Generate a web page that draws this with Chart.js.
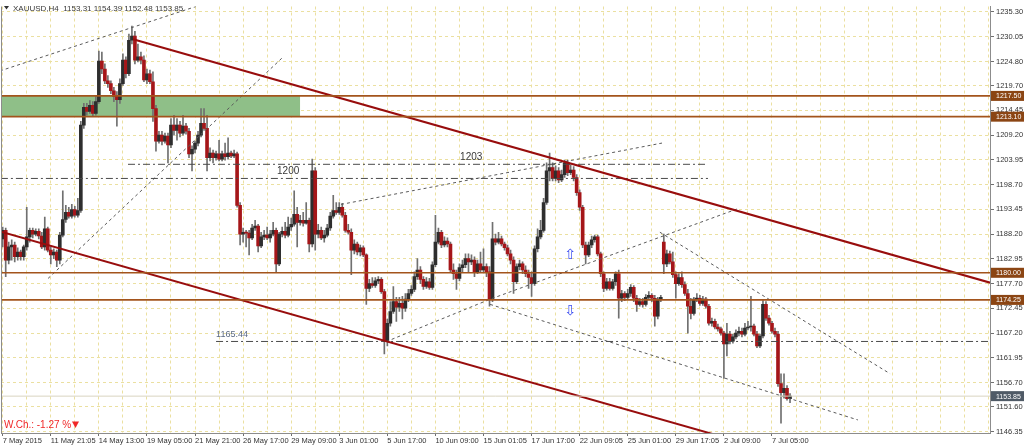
<!DOCTYPE html>
<html>
<head>
<meta charset="utf-8">
<title>XAUUSD,H4</title>
<script src="https://cdn.jsdelivr.net/npm/chart.js@4.4.1/dist/chart.umd.min.js"></script>
<style>
  html, body { margin: 0; padding: 0; background: #fff; }
  canvas { display: block; }
</style>
</head>
<body>
<canvas id="xau" width="1024" height="447"></canvas>
<script>
// H4 candles, one per bar index
const opens = [
  1187.2, 1189.0, 1182.7, 1185.5, 1185.9, 1183.4, 1184.4, 1183.4, 1185.5, 1187.6,
  1189.0, 1188.2, 1188.8, 1187.8, 1185.5, 1189.3, 1184.8, 1183.8, 1184.4, 1182.7,
  1188.0, 1191.3, 1192.8, 1192.0, 1193.4, 1192.2, 1193.2, 1211.3, 1215.1, 1214.2,
  1215.5, 1213.8, 1216.3, 1224.9, 1223.2, 1220.7, 1220.1, 1218.6, 1217.4, 1216.7,
  1220.1, 1225.1, 1222.2, 1229.3, 1230.2, 1225.1, 1225.8, 1225.1, 1220.9, 1222.2,
  1220.5, 1214.8, 1207.9, 1209.2, 1207.9, 1209.0, 1207.1, 1211.3, 1210.2, 1211.3,
  1209.6, 1211.1, 1210.0, 1205.2, 1206.2, 1207.5, 1209.2, 1211.7, 1210.6, 1204.4,
  1205.4, 1204.4, 1205.2, 1204.1, 1205.2, 1204.6, 1205.4, 1204.8, 1205.2, 1194.3,
  1188.2, 1188.6, 1188.4, 1187.4, 1189.5, 1189.9, 1185.7, 1187.6, 1188.0, 1187.4,
  1188.2, 1189.0, 1181.9, 1188.2, 1188.8, 1188.0, 1189.7, 1190.3, 1192.4, 1190.7,
  1191.1, 1190.5, 1191.1, 1186.1, 1201.6, 1188.2, 1189.0, 1187.4, 1188.0, 1189.5,
  1192.0, 1193.2, 1192.8, 1193.9, 1192.2, 1189.0, 1188.6, 1184.8, 1186.1, 1184.4,
  1185.3, 1183.8, 1176.7, 1177.7, 1177.3, 1178.3, 1178.6, 1176.0, 1165.5, 1169.3,
  1171.8, 1173.9, 1172.7, 1173.5, 1172.5, 1174.4, 1175.6, 1176.5, 1179.2, 1180.6,
  1178.6, 1177.1, 1178.1, 1176.9, 1181.7, 1186.5, 1188.6, 1185.9, 1186.7, 1186.1,
  1180.6, 1179.8, 1178.8, 1181.1, 1181.7, 1183.0, 1182.3, 1182.7, 1180.2, 1181.9,
  1180.6, 1181.3, 1180.2, 1174.4, 1187.2, 1186.5, 1187.2, 1186.1, 1185.3, 1184.0,
  1182.7, 1178.1, 1181.3, 1181.9, 1180.6, 1179.8, 1179.0, 1177.7, 1185.1, 1187.6,
  1189.0, 1194.9, 1201.6, 1202.3, 1200.0, 1201.6, 1199.7, 1200.8, 1203.3, 1201.2,
  1201.8, 1200.2, 1197.0, 1193.9, 1185.9, 1183.8, 1185.9, 1187.0, 1187.6, 1184.0,
  1179.8, 1176.7, 1178.1, 1176.7, 1178.1, 1179.8, 1174.6, 1175.6, 1174.8, 1175.6,
  1176.9, 1174.6, 1173.3, 1173.9, 1173.3, 1174.8, 1175.2, 1174.6, 1170.8, 1174.4,
  1186.5, 1181.9, 1184.0, 1182.3, 1179.6, 1177.7, 1179.0, 1177.5, 1175.6, 1172.9,
  1171.4, 1174.4, 1174.6, 1173.5, 1174.4, 1172.9, 1169.3, 1169.7, 1168.5, 1168.1,
  1167.2, 1164.9, 1167.0, 1165.5, 1166.4, 1167.2, 1167.6, 1167.0, 1168.3, 1168.5,
  1168.7, 1167.0, 1164.5, 1166.6, 1173.3, 1170.4, 1169.3, 1167.6, 1167.0, 1156.5,
  1154.6, 1155.5, 1153.31
];
const highs = [
  1189.7, 1189.5, 1186.5, 1187.0, 1186.5, 1185.3, 1184.8, 1185.9, 1193.9, 1189.5,
  1189.5, 1189.3, 1189.3, 1188.6, 1191.8, 1189.7, 1185.5, 1185.1, 1184.8, 1188.6,
  1197.4, 1194.3, 1193.9, 1194.5, 1194.1, 1195.8, 1212.1, 1215.9, 1215.9, 1216.5,
  1216.3, 1217.6, 1227.0, 1226.8, 1224.3, 1221.8, 1220.7, 1219.3, 1218.4, 1221.1,
  1226.4, 1225.8, 1230.6, 1232.3, 1231.2, 1228.5, 1226.8, 1226.0, 1223.2, 1223.0,
  1222.6, 1215.5, 1210.0, 1210.0, 1209.6, 1209.6, 1212.7, 1213.4, 1212.7, 1212.1,
  1213.4, 1211.7, 1210.6, 1206.9, 1207.9, 1210.0, 1214.8, 1214.8, 1213.4, 1206.5,
  1206.0, 1205.8, 1208.1, 1205.8, 1207.5, 1208.6, 1205.8, 1206.0, 1205.6, 1194.9,
  1189.5, 1189.0, 1189.0, 1190.3, 1191.1, 1190.3, 1188.6, 1189.0, 1189.7, 1189.0,
  1190.7, 1189.5, 1188.6, 1189.7, 1190.7, 1191.8, 1191.6, 1197.4, 1193.9, 1192.2,
  1192.8, 1194.9, 1191.6, 1204.1, 1202.3, 1190.3, 1189.7, 1189.0, 1190.3, 1192.8,
  1196.4, 1194.9, 1194.9, 1194.7, 1192.8, 1190.3, 1189.3, 1187.0, 1186.5, 1185.9,
  1185.7, 1184.0, 1178.6, 1179.0, 1179.0, 1179.2, 1179.0, 1176.5, 1170.2, 1173.9,
  1177.1, 1174.8, 1174.8, 1175.0, 1175.6, 1176.5, 1177.3, 1180.2, 1183.0, 1181.3,
  1179.2, 1179.0, 1178.8, 1182.3, 1192.2, 1189.5, 1189.0, 1187.6, 1187.4, 1186.5,
  1181.9, 1180.6, 1181.9, 1182.7, 1184.0, 1184.0, 1183.8, 1183.4, 1182.7, 1184.4,
  1185.1, 1181.9, 1181.3, 1190.7, 1188.2, 1188.6, 1187.8, 1186.5, 1185.9, 1184.8,
  1183.4, 1181.9, 1182.7, 1182.3, 1181.5, 1180.6, 1180.2, 1185.7, 1189.3, 1191.1,
  1195.8, 1203.3, 1205.4, 1203.3, 1202.7, 1202.3, 1201.8, 1203.9, 1203.9, 1202.9,
  1202.5, 1200.8, 1197.6, 1194.3, 1186.5, 1186.5, 1187.8, 1188.0, 1188.0, 1184.4,
  1180.2, 1178.8, 1178.8, 1178.6, 1180.2, 1180.6, 1176.3, 1176.0, 1176.5, 1177.5,
  1177.3, 1175.2, 1174.6, 1174.6, 1175.4, 1176.0, 1175.6, 1175.2, 1174.8, 1175.2,
  1188.2, 1184.8, 1184.6, 1184.4, 1180.2, 1179.8, 1180.2, 1178.1, 1176.5, 1174.6,
  1174.8, 1175.6, 1175.2, 1175.0, 1174.8, 1173.3, 1170.4, 1170.2, 1169.1, 1168.5,
  1167.6, 1169.3, 1167.6, 1167.0, 1167.9, 1168.5, 1168.3, 1169.3, 1169.7, 1175.0,
  1169.1, 1167.6, 1167.0, 1174.1, 1173.9, 1171.0, 1169.7, 1168.3, 1167.6, 1158.6,
  1158.6, 1156.1, 1154.39
];
const lows = [
  1185.5, 1179.2, 1181.9, 1182.7, 1182.3, 1182.7, 1182.7, 1182.7, 1184.8, 1186.5,
  1187.4, 1187.8, 1187.2, 1185.1, 1184.8, 1184.4, 1181.9, 1183.0, 1181.3, 1181.9,
  1187.6, 1190.7, 1191.6, 1191.6, 1191.8, 1191.8, 1192.8, 1210.6, 1213.4, 1213.8,
  1213.2, 1213.4, 1215.9, 1222.2, 1220.1, 1219.3, 1218.0, 1216.3, 1211.1, 1215.9,
  1219.7, 1221.3, 1221.8, 1228.5, 1224.3, 1224.7, 1224.3, 1220.5, 1220.1, 1220.1,
  1212.1, 1205.8, 1207.5, 1207.1, 1207.5, 1203.3, 1206.5, 1209.2, 1208.1, 1208.8,
  1209.2, 1209.4, 1204.4, 1201.6, 1205.4, 1206.9, 1208.8, 1210.2, 1201.6, 1203.7,
  1203.3, 1203.9, 1203.7, 1203.7, 1203.9, 1204.1, 1204.4, 1204.4, 1193.9, 1185.9,
  1186.5, 1185.5, 1183.8, 1187.0, 1189.0, 1184.4, 1185.3, 1187.0, 1187.0, 1186.5,
  1187.8, 1180.2, 1181.5, 1187.6, 1187.4, 1187.6, 1189.0, 1189.9, 1185.5, 1190.1,
  1189.9, 1190.3, 1184.4, 1185.5, 1184.8, 1187.4, 1187.0, 1186.5, 1187.6, 1189.0,
  1191.6, 1192.4, 1192.4, 1191.8, 1188.6, 1188.2, 1179.6, 1184.0, 1183.8, 1183.6,
  1183.4, 1173.3, 1176.0, 1176.9, 1176.9, 1177.7, 1175.6, 1162.8, 1164.5, 1168.7,
  1171.4, 1169.7, 1171.8, 1170.2, 1171.8, 1173.9, 1175.2, 1176.0, 1178.6, 1177.7,
  1176.5, 1176.7, 1176.5, 1176.5, 1181.3, 1186.1, 1185.3, 1185.5, 1185.5, 1180.2,
  1178.6, 1176.5, 1178.3, 1180.2, 1181.1, 1180.2, 1181.7, 1179.2, 1179.8, 1180.0,
  1180.2, 1179.2, 1172.9, 1173.9, 1185.9, 1186.1, 1185.7, 1184.8, 1183.6, 1181.9,
  1175.6, 1177.7, 1180.6, 1179.8, 1179.2, 1176.7, 1175.0, 1177.3, 1184.4, 1187.2,
  1188.6, 1194.5, 1199.5, 1199.5, 1199.5, 1199.1, 1199.3, 1200.2, 1200.6, 1200.8,
  1199.5, 1196.4, 1193.2, 1185.3, 1181.9, 1183.4, 1185.3, 1186.5, 1183.6, 1179.2,
  1176.0, 1176.3, 1176.3, 1176.3, 1177.3, 1170.4, 1173.9, 1174.1, 1174.4, 1175.0,
  1173.9, 1171.8, 1172.9, 1172.7, 1172.9, 1174.4, 1173.9, 1168.7, 1170.2, 1173.9,
  1179.8, 1181.3, 1181.9, 1179.0, 1174.6, 1177.3, 1176.9, 1175.2, 1167.2, 1170.2,
  1171.0, 1173.9, 1173.1, 1173.1, 1172.5, 1168.9, 1168.7, 1168.1, 1167.6, 1166.8,
  1157.6, 1162.4, 1164.9, 1165.1, 1166.0, 1166.6, 1166.4, 1166.6, 1167.9, 1167.6,
  1166.6, 1164.1, 1164.1, 1166.2, 1169.9, 1168.9, 1167.2, 1166.4, 1155.9, 1148.1,
  1153.4, 1153.0, 1152.48
];
const closes = [
  1189.0, 1182.7, 1185.5, 1185.9, 1183.4, 1184.4, 1183.4, 1185.5, 1187.6, 1189.0,
  1188.2, 1188.8, 1187.8, 1185.5, 1189.3, 1184.8, 1183.8, 1184.4, 1182.7, 1188.0,
  1191.3, 1192.8, 1192.0, 1193.4, 1192.2, 1193.2, 1211.3, 1215.1, 1214.2, 1215.5,
  1213.8, 1216.3, 1224.9, 1223.2, 1220.7, 1220.1, 1218.6, 1217.4, 1216.7, 1220.1,
  1225.1, 1222.2, 1229.3, 1230.2, 1225.1, 1225.8, 1225.1, 1220.9, 1222.2, 1220.5,
  1214.8, 1207.9, 1209.2, 1207.9, 1209.0, 1207.1, 1211.3, 1210.2, 1211.3, 1209.6,
  1211.1, 1210.0, 1205.2, 1206.2, 1207.5, 1209.2, 1211.7, 1210.6, 1204.4, 1205.4,
  1204.4, 1205.2, 1204.1, 1205.2, 1204.6, 1205.4, 1204.8, 1205.2, 1194.3, 1188.2,
  1188.6, 1188.4, 1187.4, 1189.5, 1189.9, 1185.7, 1187.6, 1188.0, 1187.4, 1188.2,
  1189.0, 1181.9, 1188.2, 1188.8, 1188.0, 1189.7, 1190.3, 1192.4, 1190.7, 1191.1,
  1190.5, 1191.1, 1186.1, 1201.6, 1188.2, 1189.0, 1187.4, 1188.0, 1189.5, 1192.0,
  1193.2, 1192.8, 1193.9, 1192.2, 1189.0, 1188.6, 1184.8, 1186.1, 1184.4, 1185.3,
  1183.8, 1176.7, 1177.7, 1177.3, 1178.3, 1178.6, 1176.0, 1165.5, 1169.3, 1171.8,
  1173.9, 1172.7, 1173.5, 1172.5, 1174.4, 1175.6, 1176.5, 1179.2, 1180.6, 1178.6,
  1177.1, 1178.1, 1176.9, 1181.7, 1186.5, 1188.6, 1185.9, 1186.7, 1186.1, 1180.6,
  1179.8, 1178.8, 1181.1, 1181.7, 1183.0, 1182.3, 1182.7, 1180.2, 1181.9, 1180.6,
  1181.3, 1180.2, 1174.4, 1187.2, 1186.5, 1187.2, 1186.1, 1185.3, 1184.0, 1182.7,
  1178.1, 1181.3, 1181.9, 1180.6, 1179.8, 1179.0, 1177.7, 1185.1, 1187.6, 1189.0,
  1194.9, 1201.6, 1202.3, 1200.0, 1201.6, 1199.7, 1200.8, 1203.3, 1201.2, 1201.8,
  1200.2, 1197.0, 1193.9, 1185.9, 1183.8, 1185.9, 1187.0, 1187.6, 1184.0, 1179.8,
  1176.7, 1178.1, 1176.7, 1178.1, 1179.8, 1174.6, 1175.6, 1174.8, 1175.6, 1176.9,
  1174.6, 1173.3, 1173.9, 1173.3, 1174.8, 1175.2, 1174.6, 1170.8, 1174.4, 1174.8,
  1181.9, 1184.0, 1182.3, 1179.6, 1177.7, 1179.0, 1177.5, 1175.6, 1172.9, 1171.4,
  1174.4, 1174.6, 1173.5, 1174.4, 1172.9, 1169.3, 1169.7, 1168.5, 1168.1, 1167.2,
  1164.9, 1167.0, 1165.5, 1166.4, 1167.2, 1167.6, 1167.0, 1168.3, 1168.5, 1168.7,
  1167.0, 1164.5, 1166.6, 1173.3, 1170.4, 1169.3, 1167.6, 1167.0, 1156.5, 1154.6,
  1155.5, 1153.3, 1153.85
];

// axis labels
const timeLabels = ['7 May 2015', '11 May 21:05', '14 May 13:00', '19 May 05:00', '21 May 21:00',
  '26 May 17:00', '29 May 09:00', '3 Jun 01:00', '5 Jun 17:00', '10 Jun 09:00', '15 Jun 01:05',
  '17 Jun 17:00', '22 Jun 09:05', '25 Jun 01:00', '29 Jun 17:05', '2 Jul 09:00', '7 Jul 05:00'];
const labelBars = [0, 16, 32, 48, 64, 80, 96, 112, 128, 144, 160, 176, 192, 208, 224, 240, 256];
const yTicks = [1235.30, 1230.05, 1224.80, 1219.70, 1214.45, 1209.20, 1203.95, 1198.70, 1193.45,
  1188.20, 1182.95, 1177.70, 1172.45, 1167.20, 1161.95, 1156.70, 1151.60, 1146.35];

// drawn objects: [bar, price] points
const levels = [1217.50, 1213.10, 1180.00, 1174.25];
const lastPrice = 1153.85;
const zone = [[-0.6, 1217.50], [99, 1217.50]];
const zoneFloor = 1213.10;
const channelUpper = [[43.4, 1229.5], [328.6, 1177.9]];
const channelLower = [[-0.6, 1188.7], [328.6, 1129.1]];
const line1200 = [[-0.6, 1200], [234.7, 1200]];
const line1203 = [[41.7, 1203], [234.7, 1203]];
const line116544 = [[71, 1165.44], [328.6, 1165.44]];
const trends = [
  [[-0.9, 1222.8], [64.3, 1236.45]],
  [[15.1, 1178.8], [92.9, 1225.5]],
  [[112.6, 1194.5], [219.4, 1207.5]],
  [[127.6, 1165.4], [162.2, 1174.4], [244.7, 1193.6]],
  [[162.2, 1173.3], [284.6, 1148.8]],
  [[218.7, 1188.6], [295.3, 1158.6]]
];
const captionText = ['1200', '1203', '1165.44'];
const captionBar = [91.3, 152.2, 71.0];
const captionPrice = [1200, 1203, 1165.44];
const arrowBar = 188.8;
const arrowUp = 1183.6;
const arrowDown = 1171.8;

const BULL = '#2e2e2e';
const BEAR = '#a51619';
const GRID = '#ebe0a0';
const FONT = '"Liberation Sans", Arial, sans-serif';

function seg(points, color, width, dash) {
  return {
    type: 'line',
    data: points.map(p => ({ x: p[0], y: p[1] })),
    borderColor: color,
    borderWidth: width,
    borderDash: dash,
    pointRadius: 0,
    fill: false,
    tension: 0,
    order: 0
  };
}

const gridBars = [];
for (let b = 0; b <= 328; b += 8) gridBars.push(b);

const datasets = [];
datasets.push({
  type: 'bar',
  data: opens.map((o, i) => ({ x: i, y: [o, closes[i]] })),
  backgroundColor: opens.map((o, i) => closes[i] >= o ? BULL : BEAR),
  borderWidth: 0,
  barThickness: 3,
  minBarLength: 1,
  grouped: false,
  order: 1
});
datasets.push({
  type: 'bar',
  data: lows.map((l, i) => ({ x: i, y: [l, highs[i]] })),
  backgroundColor: '#707070',
  borderWidth: 0,
  barThickness: 1,
  grouped: false,
  order: 2
});
datasets.push({
  type: 'line',
  data: zone.map(p => ({ x: p[0], y: p[1] })),
  borderWidth: 0,
  pointRadius: 0,
  backgroundColor: '#8fbf88',
  fill: { value: zoneFloor },
  order: 3
});
levels.forEach(v => datasets.push(seg([[-0.6, v], [328.6, v]], '#a3541c', 1.6, [])));
datasets.push(seg([[-0.6, lastPrice], [328.6, lastPrice]], '#d9d4c0', 1, []));
datasets.push(seg(channelUpper, '#980d0d', 2, []));
datasets.push(seg(channelLower, '#980d0d', 2, []));
[line1200, line1203, line116544].forEach(l => datasets.push(seg(l, '#4a4a4a', 1, [7, 3, 2, 3])));
trends.forEach(t => datasets.push(seg(t, '#5a5a5a', 1, [3, 3])));

const decor = {
  id: 'decor',
  afterDatasetsDraw(chart) {
    const { ctx, chartArea: a, scales: { x, y } } = chart;
    ctx.save();
    ctx.strokeStyle = '#8c8c8c';
    ctx.lineWidth = 1;
    ctx.beginPath();
    ctx.moveTo(a.left + 0.5, a.top);
    ctx.lineTo(a.left + 0.5, a.bottom);
    ctx.stroke();

    // captions on the dash-dot levels
    ctx.textBaseline = 'bottom';
    ctx.textAlign = 'left';
    captionText.forEach((t, i) => {
      ctx.font = (i === 2 ? '9px ' : '10px ') + FONT;
      ctx.fillStyle = i === 2 ? '#5b6a82' : '#383838';
      ctx.fillText(t, x.getPixelForValue(captionBar[i]), y.getPixelForValue(captionPrice[i]) - 2);
    });

    // arrows
    ctx.font = '14px "DejaVu Sans"';
    ctx.fillStyle = '#3a4cf0';
    ctx.textAlign = 'center';
    ctx.textBaseline = 'middle';
    ctx.fillText('\u21E7', x.getPixelForValue(arrowBar), y.getPixelForValue(arrowUp));
    ctx.fillText('\u21E9', x.getPixelForValue(arrowBar), y.getPixelForValue(arrowDown));

    // header
    ctx.fillStyle = '#333';
    ctx.beginPath();
    ctx.moveTo(4, 6); ctx.lineTo(9, 6); ctx.lineTo(6.5, 9.5); ctx.closePath(); ctx.fill();
    ctx.font = '8px ' + FONT;
    ctx.textAlign = 'left';
    ctx.fillStyle = '#3a3a3a';
    ctx.fillText('XAUUSD,H4  1153.31 1154.39 1152.48 1153.85', 13, 8.5);

    // weekly change
    ctx.font = '10px ' + FONT;
    ctx.fillStyle = '#f02828';
    ctx.fillText('W.Ch.: -1.27 %', 4, 425);
    ctx.beginPath();
    ctx.moveTo(72, 421.5); ctx.lineTo(79, 421.5); ctx.lineTo(75.5, 428); ctx.closePath(); ctx.fill();
    ctx.restore();
  },
  afterDraw(chart) {
    const { ctx, chartArea: a, scales: { y } } = chart;
    ctx.save();
    ctx.font = '7px ' + FONT;
    ctx.textAlign = 'left';
    ctx.textBaseline = 'middle';
    const tag = (v, bg) => {
      const py = y.getPixelForValue(v);
      ctx.fillStyle = bg;
      ctx.fillRect(a.right + 1, py - 5, 33, 10);
      ctx.fillStyle = '#fff';
      ctx.fillText(v.toFixed(2), a.right + 6, py + 0.5);
    };
    levels.forEach(v => tag(v, '#8b4513'));
    tag(lastPrice, '#4f5a66');
    ctx.restore();
  }
};

new Chart(document.getElementById('xau'), {
  type: 'bar',
  data: { datasets },
  plugins: [decor],
  options: {
    responsive: false,
    devicePixelRatio: 1,
    animation: false,
    events: [],
    layout: { padding: { top: 2, left: 1, right: 0, bottom: 0 } },
    plugins: { legend: { display: false }, tooltip: { enabled: false } },
    scales: {
      x: {
        type: 'linear',
        min: -0.566,
        max: 328.55,
        bounds: 'data',
        offset: false,
        afterBuildTicks: s => { s.ticks = gridBars.map(v => ({ value: v })); },
        afterFit: s => { s.height = 14; },
        grid: {
          offset: false,
          color: GRID,
          tickLength: 3,
          tickColor: c => (c.tick && labelBars.includes(c.tick.value)) ? '#707070' : 'rgba(0,0,0,0)'
        },
        border: { color: '#8c8c8c', dash: [3, 3] },
        ticks: {
          autoSkip: false,
          maxRotation: 0,
          minRotation: 0,
          align: 'start',
          padding: 0,
          color: '#333',
          font: { family: FONT, size: 7.5 },
          callback: v => { const k = labelBars.indexOf(v); return k >= 0 ? timeLabels[k] : ''; }
        }
      },
      y: {
        position: 'right',
        min: 1146.035,
        max: 1236.454,
        bounds: 'data',
        afterBuildTicks: s => { s.ticks = yTicks.map(v => ({ value: v })); },
        afterFit: s => { s.width = 34; },
        grid: { color: GRID, tickLength: 4, tickColor: '#707070' },
        border: { color: '#8c8c8c', dash: [3, 3] },
        ticks: {
          autoSkip: false,
          padding: 2,
          color: '#333',
          font: { family: FONT, size: 7.5 },
          callback: v => v.toFixed(2)
        }
      }
    }
  }
});
</script>
</body>
</html>
